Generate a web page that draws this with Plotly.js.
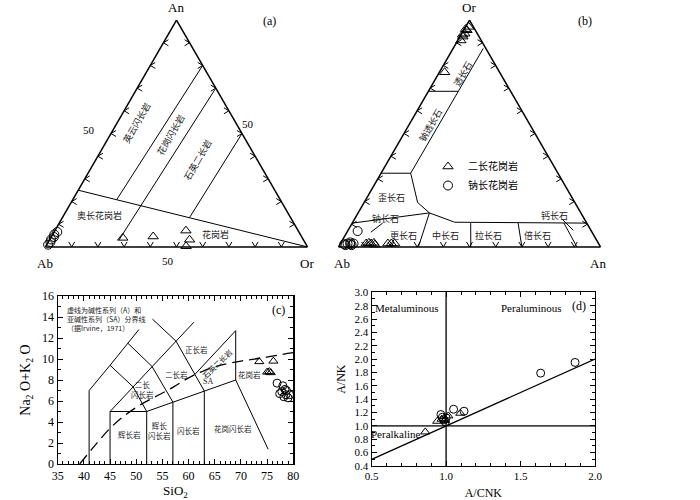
<!DOCTYPE html>
<html><head><meta charset="utf-8">
<script src="https://cdn.plot.ly/plotly-3.0.1.min.js"></script>
<style>html,body{margin:0;padding:0;background:#fff}#chart{width:700px;height:500px}</style>
</head><body><div id="chart"></div>
<script>
// ===== Panel (a): An (top) - Ab (left) - Or (right), percent =====
const aCircAn = [1.0, 2.2, 3.3, 4.4, 5.5, 6.6];
const aCircOr = [0.5, 0.8, 0.5, 1.0, 0.6, 1.2];
const aTriAn  = [4.0, 4.6, 7.2, 3.2, 0.3];
const aTriOr  = [27.5, 38.8, 50.0, 53.4, 53.5];
// field boundaries (An, Or)
const aLine1An = [25, 0],     aLine1Or = [0, 100];
const aLine2An = [20.8, 80],  aLine2Or = [16.75, 20];
const aLine3An = [3, 70],     aLine3Or = [26.5, 30];
const aLine4An = [12.9, 50],  aLine4Or = [48.5, 50];

// ===== Panel (b): Or (top) - Ab (left) - An (right), percent =====
const bTriOr = [97, 95.5, 94, 92.7, 91, 93.5, 96, 77, 1.5, 1.8, 1.5, 1.8, 1.0, 1.5, 1.5, 1.5];
const bTriAn = [1.2, 1.3, 1.2, 1.1, 1.2, 0.6, 0.5, 2, 9.8, 10.7, 11.7, 12.6, 13.4, 18.1, 19.4, 20.7];
const bCircOr = [1.2, 1.5, 1.2, 1.5, 0.8, 2.0, 0.8, 7];
const bCircAn = [1.6, 2.7, 3.9, 5.0, 2.3, 3.5, 4.6, 3.8];
// field boundaries (Or, An)
const bL1Or = [32.5, 32.5],  bL1An = [0, 11.3];
const bL2Or = [32.5, 87.5],  bL2An = [11.3, 11.5];
const bL3Or = [68.6, 68.6],  bL3An = [0, 11.3];
const bL4Or = [32.5, 19.6, 15.0, 10.9, 10.5], bL4An = [11.3, 20.4, 27.2, 38.9, 89.5];
const bL5Or = [10.5, 15.0],  bL5An = [0, 27.2];
const bD1Or = [15.0, 0],     bD1An = [27.2, 30.5];
const bD2Or = [10.5, 0],     bD2An = [45.2, 50.5];
const bD3Or = [10.5, 0],     bD3An = [63.3, 70];
const bD4Or = [10.5, 0],     bD4An = [80.8, 91];
const bLeadAbOr = [10.5, 6.5], bLeadAbAn = [11.6, 9.1];
const bLeadAnOr = [12.3, 7.3], bLeadAnAn = [79.2, 86];

// ===== Panel (c): SiO2 vs Na2O+K2O =====
const cTriSi = [73.5, 76.2, 75.0, 75.4, 75.7];
const cTriAlk = [9.75, 9.8, 8.75, 8.8, 8.7];
const cCircSi = [76.9, 78.0, 78.4, 77.8, 77.4, 78.6, 78.2, 79.0, 79.3, 78.7];
const cCircAlk = [7.7, 7.45, 7.1, 6.9, 6.7, 6.6, 6.4, 6.3, 6.6, 7.0];
const cFieldX = [41, 41, 45, 48.4, 50.5, null, 45, 49.4, 52, null, 48.4, 53, 57, null,
                 53.1, 57.6, 63, null, 45, 61, null, 45, 45, 52, 52, null,
                 52, 69, 75.2, null, 69, 69, null, 57, 57, null, 63, 63, null, 61.2, 69];
const cFieldY = [0, 7, 9.4, 11.5, 12.8, null, 9.4, 7.35, 5, null, 11.5, 9.3, 5.9, null,
                 13.8, 11.7, 6.95, null, 5, 13.5, null, 0, 5, 5, 0, null,
                 5, 8, 1.4, null, 8, 12.7, null, 0, 5.9, null, 0, 6.95, null, 8.53, 12.7];
const cIrvineX = [39.2, 42, 45, 48, 51, 54, 57, 60, 63, 66, 70, 74, 78, 80];
const cIrvineY = [0, 1.7, 3.4, 4.7, 5.7, 6.5, 7.3, 8.2, 8.9, 9.4, 9.8, 10.1, 10.45, 10.6];

// ===== Panel (d): A/CNK vs A/NK =====
const dCircX = [1.866, 1.635, 1.12, 1.05, 0.965, 0.975, 0.985, 0.995, 1.0];
const dCircY = [1.95, 1.79, 1.22, 1.25, 1.17, 1.13, 1.09, 1.06, 1.12];
const dTriX = [0.86, 0.94, 0.97, 1.015, 1.095, 0.99];
const dTriY = [0.91, 1.07, 1.10, 1.15, 1.19, 1.08];
const dVertX = [1, 1], dVertY = [0.4, 3.0];
const dHorX = [0.5, 2.0], dHorY = [1, 1];
const dDiagX = [0.5, 2.0], dDiagY = [0.5, 2.0];

// tick values
const ternTicks = [10, 20, 30, 40, 50, 60, 70, 80, 90];
const cXTicks = [35, 40, 45, 50, 55, 60, 65, 70, 75, 80];
const dXTicks = [0.5, 1.0, 1.5, 2.0];
const dXText = ['0.5', '1.0', '1.5', '2.0'];

const rest = (p, q) => p.map((v, i) => (v === null ? null : 100 - v - q[i]));
const SERIF = 'Liberation Serif, Times New Roman, serif';
const CJK = 'Noto Sans CJK SC, sans-serif';
const BLK = 'black';
const TW = 262, TH = TW * Math.sqrt(3) / 2;   // triangle size in px (from domain)

function tLine(sub, aArr, cArr, w) {
  return {type: 'scatterternary', subplot: sub, mode: 'lines', a: aArr, b: rest(aArr, cArr), c: cArr,
          line: {color: BLK, width: w || 1}, showlegend: false, hoverinfo: 'skip'};
}
function tPts(sub, aArr, cArr, sym, size, name, show) {
  return {type: 'scatterternary', subplot: sub, mode: 'markers', a: aArr, b: rest(aArr, cArr), c: cArr,
          name: name, showlegend: show, cliponaxis: false,
          marker: {symbol: sym, size: size, color: BLK, line: {color: BLK, width: 1}}};
}
// arrow-head tick marks on the three edges of a ternary, built from ternTicks
function ternTickTrace(sub) {
  const A = [], C = [];
  const L = 5, h = 3;
  function off(a0, c0, dx, dy) {
    const da = -dy / TH * 100;
    const dc = (dx - (TW / 2) * da / 100) / TW * 100;
    return [a0 + da, c0 + dc];
  }
  function mark(a0, c0, arms) {
    const p1 = off(a0, c0, arms[0][0], arms[0][1]);
    const p2 = off(a0, c0, arms[1][0], arms[1][1]);
    A.push(p1[0], a0, p2[0], null); C.push(p1[1], c0, p2[1], null);
  }
  ternTicks.forEach(v => {
    mark(v, 0, [[L, -h], [L, h]]);             // left edge
    mark(v, 100 - v, [[-L, -h], [-L, h]]);     // right edge
    mark(0, v, [[-h, -L], [h, -L]]);           // bottom edge
  });
  return tLine(sub, A, C, 1);
}

const traces = [
  tLine('ternary', aLine1An, aLine1Or), tLine('ternary', aLine2An, aLine2Or),
  tLine('ternary', aLine3An, aLine3Or), tLine('ternary', aLine4An, aLine4Or),
  ternTickTrace('ternary'),
  tPts('ternary', aCircAn, aCircOr, 'circle-open', 9, '钠长花岗岩', false),
  tPts('ternary', aTriAn, aTriOr, 'triangle-up-open', 9, '二长花岗岩', false),

  tLine('ternary2', bL1Or, bL1An), tLine('ternary2', bL2Or, bL2An), tLine('ternary2', bL3Or, bL3An),
  tLine('ternary2', bL4Or, bL4An), tLine('ternary2', bL5Or, bL5An), tLine('ternary2', bD1Or, bD1An),
  tLine('ternary2', bD2Or, bD2An), tLine('ternary2', bD3Or, bD3An), tLine('ternary2', bD4Or, bD4An),
  tLine('ternary2', bLeadAbOr, bLeadAbAn), tLine('ternary2', bLeadAnOr, bLeadAnAn),
  ternTickTrace('ternary2'),
  tPts('ternary2', bTriOr, bTriAn, 'triangle-up-open', 9, '二长花岗岩', true),
  tPts('ternary2', bCircOr, bCircAn, 'circle-open', 9, '钠长花岗岩', true),

  {type: 'scatter', x: cFieldX, y: cFieldY, mode: 'lines', xaxis: 'x', yaxis: 'y', line: {color: BLK, width: 1},
   showlegend: false, hoverinfo: 'skip', connectgaps: false},
  {type: 'scatter', x: cIrvineX, y: cIrvineY, mode: 'lines', xaxis: 'x', yaxis: 'y', line: {color: BLK, width: 1.3, dash: '11px,6px', shape: 'spline'},
   showlegend: false, hoverinfo: 'skip'},
  {type: 'scatter', x: cTriSi, y: cTriAlk, mode: 'markers', xaxis: 'x', yaxis: 'y', showlegend: false, cliponaxis: false,
   marker: {symbol: 'triangle-up-open', size: 8, color: BLK, line: {color: BLK, width: 1}}},
  {type: 'scatter', x: cCircSi, y: cCircAlk, mode: 'markers', xaxis: 'x', yaxis: 'y', showlegend: false, cliponaxis: false,
   marker: {symbol: 'circle-open', size: 8, color: BLK, line: {color: BLK, width: 1}}},

  {type: 'scatter', x: dVertX, y: dVertY, mode: 'lines', xaxis: 'x2', yaxis: 'y2', line: {color: '#444', width: 1.8}, showlegend: false, hoverinfo: 'skip'},
  {type: 'scatter', x: dHorX, y: dHorY, mode: 'lines', xaxis: 'x2', yaxis: 'y2', line: {color: '#444', width: 1.8}, showlegend: false, hoverinfo: 'skip'},
  {type: 'scatter', x: dDiagX, y: dDiagY, mode: 'lines', xaxis: 'x2', yaxis: 'y2', line: {color: BLK, width: 1.3}, showlegend: false, hoverinfo: 'skip'},
  {type: 'scatter', x: dCircX, y: dCircY, mode: 'markers', xaxis: 'x2', yaxis: 'y2', showlegend: false, cliponaxis: false,
   marker: {symbol: 'circle-open', size: 8, color: BLK, line: {color: BLK, width: 1}}},
  {type: 'scatter', x: dTriX, y: dTriY, mode: 'markers', xaxis: 'x2', yaxis: 'y2', showlegend: false, cliponaxis: false,
   marker: {symbol: 'triangle-up-open', size: 8, color: BLK, line: {color: BLK, width: 1}}}
];

function tAxis() {
  return {title: {text: ''}, min: 0, showline: true, linecolor: BLK, linewidth: 1.5, showgrid: false,
          ticks: '', showticklabels: false};
}

function cart(extra) {
  return Object.assign({showline: true, linecolor: BLK, linewidth: 1.2, mirror: 'ticks', ticks: 'inside',
    ticklen: 5, tickwidth: 1, tickcolor: BLK, showgrid: false, zeroline: false, fixedrange: true,
    tickfont: {family: SERIF, size: 12, color: BLK}}, extra);
}

function lab(text, px, py, ang, size) {
  return {text: text, xref: 'paper', yref: 'paper', x: px / 700, y: 1 - py / 500, showarrow: false,
          xanchor: 'center', yanchor: 'middle', textangle: ang || 0,
          font: {family: CJK, size: size || 9, color: '#222'}};
}
function serifLab(text, px, py, size) {
  return {text: text, xref: 'paper', yref: 'paper', x: px / 700, y: 1 - py / 500, showarrow: false,
          xanchor: 'center', yanchor: 'middle', font: {family: SERIF, size: size || 13, color: BLK}};
}
function labC(text, x, y, size, extra) {
  return Object.assign({text: text, xref: 'x', yref: 'y', x: x, y: y, showarrow: false,
          xanchor: 'center', yanchor: 'middle', font: {family: CJK, size: size || 7.5, color: '#222'}}, extra || {});
}
function labD(text, x, y, extra) {
  return Object.assign({text: text, xref: 'x2', yref: 'y2', x: x, y: y, showarrow: false,
          xanchor: 'center', yanchor: 'middle', font: {family: SERIF, size: 11, color: BLK}}, extra || {});
}

const annotations = [
  serifLab('An', 176, 7), serifLab('Ab', 45, 263), serifLab('Or', 307, 263),
  serifLab('50', 89, 130, 11), serifLab('50', 168, 261, 11), serifLab('50', 248, 124, 11),
  serifLab('Or', 469, 7), serifLab('Ab', 342, 263), serifLab('An', 598, 263),
  lab('英云闪长岩', 136, 123, -60), lab('花岗闪长岩', 170, 135, -60), lab('石英二长岩', 197, 160, -60),
  lab('奥长花岗岩', 99, 216), lab('花岗岩', 215, 234),
  serifLab('(a)', 269, 21, 12),
  lab('透长石', 462, 74, -60), lab('钠透长石', 430, 125, -60), lab('歪长石', 391, 197),
  lab('钠长石', 385, 219), lab('更长石', 403, 235), lab('中长石', 445, 235), lab('拉长石', 488, 235),
  lab('倍长石', 537, 235), lab('钙长石', 554, 216),
  serifLab('(b)', 585, 21, 12),

  labC('虚线为碱性系列（A）和<br>亚碱性系列（SA）分界线<br>（据Irvine，1971）', 36.4, 15.3, 7, {xanchor: 'left', yanchor: 'top', align: 'left'}),
  labC('正长岩', 61.5, 10.9), labC('石英二长岩', 65.4, 9.6, 7.5, {textangle: -44}), labC('二长岩', 57.7, 8.5),
  labC('SA', 63.8, 7.85, 7.5, {font: {family: SERIF, size: 8, color: '#222'}}), labC('花岗岩', 71.7, 8.5),
  labC('二长<br>闪长岩', 51.2, 7.05), labC('辉长岩', 48.8, 2.85), labC('辉长<br>闪长岩', 54.4, 3.2),
  labC('闪长岩', 60, 3.2), labC('花岗闪长岩', 68.5, 3.4),
  labC('(c)', 77.2, 14.7, 12, {font: {family: SERIF, size: 12, color: BLK}}),

  labD('Metaluminous', 0.735, 2.76), labD('Peraluminous', 1.575, 2.76), labD('(d)', 1.894, 2.795, {font: {family: SERIF, size: 12, color: BLK}}),
  labD('Peralkaline', 0.845, 0.88, {xanchor: 'right'})
];

const layout = {
  width: 700, height: 500, margin: {l: 0, r: 0, t: 0, b: 0},
  paper_bgcolor: 'white', plot_bgcolor: 'white', hovermode: false,
  font: {family: SERIF, size: 11, color: BLK},
  showlegend: true,
  legend: {x: 428 / 700, y: 1 - 152 / 500, xanchor: 'left', yanchor: 'top', bgcolor: 'rgba(0,0,0,0)',
           font: {family: CJK, size: 10, color: BLK}, tracegroupgap: 0},
  ternary: {domain: {x: [45.5 / 700, 307.5 / 700], y: [253 / 500, 0.96]}, sum: 100, bgcolor: 'white',
            aaxis: tAxis(), baxis: tAxis(), caxis: tAxis()},
  ternary2: {domain: {x: [338.5 / 700, 600.5 / 700], y: [253 / 500, 0.96]}, sum: 100, bgcolor: 'white',
            aaxis: tAxis(), baxis: tAxis(), caxis: tAxis()},
  xaxis: cart({domain: [57.7 / 700, 293.3 / 700], anchor: 'y', range: [35, 80], tickmode: 'array', tickvals: cXTicks,
               minor: {tick0: 35, dtick: 1, ticks: 'inside', ticklen: 3, tickcolor: BLK, showgrid: false},
               title: {text: 'SiO<sub>2</sub>', font: {family: SERIF, size: 13, color: BLK}, standoff: 6}}),
  yaxis: cart({domain: [36 / 500, 204 / 500], anchor: 'x', range: [0, 16], dtick: 2,
               minor: {tick0: 0, dtick: 1, ticks: 'inside', ticklen: 3, tickcolor: BLK, showgrid: false},
               title: {text: 'Na<sub>2</sub> O+K<sub>2</sub> O', font: {family: SERIF, size: 14, color: BLK}, standoff: 8}}),
  xaxis2: cart({domain: [371.7 / 700, 595 / 700], anchor: 'y2', range: [0.5, 2.0], tickmode: 'array', tickvals: dXTicks, ticktext: dXText,
               minor: {tick0: 0.5, dtick: 0.1, ticks: 'inside', ticklen: 3, tickcolor: BLK, showgrid: false},
               tickfont: {family: SERIF, size: 11, color: BLK},
               title: {text: 'A/CNK', font: {family: SERIF, size: 12, color: BLK}, standoff: 8}}),
  yaxis2: cart({domain: [34 / 500, 207.7 / 500], anchor: 'x2', range: [0.4, 3.0], dtick: 0.2, tick0: 0.4, tickformat: '.1f',
               minor: {tick0: 0.4, dtick: 0.1, ticks: 'inside', ticklen: 3, tickcolor: BLK, showgrid: false},
               tickfont: {family: SERIF, size: 11, color: BLK},
               title: {text: 'A/NK', font: {family: SERIF, size: 12, color: BLK}, standoff: 6}}),
  annotations: annotations
};

Plotly.newPlot('chart', traces, layout, {staticPlot: true, displayModeBar: false});
</script>
</body></html>
